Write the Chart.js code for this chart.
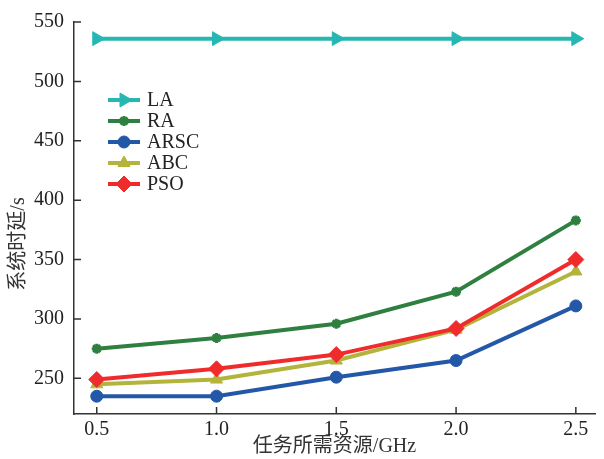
<!DOCTYPE html>
<html>
<head>
<meta charset="utf-8">
<script src="https://cdn.jsdelivr.net/npm/chart.js@4.4.0/dist/chart.umd.min.js"></script>
<style>
  html, body { margin: 0; padding: 0; background: #fff; }
  #wrap { width: 604px; height: 459px; }
</style>
</head>
<body>
<div id="wrap"><canvas id="chart"></canvas></div>
<script>
// 데이터
const resources = [0.5, 1.0, 1.5, 2.0, 2.5];
const laDelay   = [536, 536, 536, 536, 536];
const raDelay   = [275, 284, 296, 323, 383];
const arscDelay = [235, 235, 251, 265, 311];
const abcDelay  = [245, 249, 265, 291, 340];
const psoDelay  = [249, 258, 270, 292, 350];
const xTicks = [0.5, 1.0, 1.5, 2.0, 2.5];
const yTicks = [250, 300, 350, 400, 450, 500, 550];
const xTitle = "任务所需资源/GHz";
const yTitle = "系统时延/s";

const FONT = "'Liberation Serif', 'Noto Sans CJK SC', serif";
const AXIS = "#333";

const series = [
  { label: "LA",   data: laDelay,   color: "#27b7b2", style: "triangle", radius: 8, rotation: 90, order: 4 },
  { label: "RA",   data: raDelay,   color: "#2f8040", style: "star",     radius: 5, rotation: 0,  order: 3 },
  { label: "ARSC", data: arscDelay, color: "#2357a8", style: "circle",   radius: 6, rotation: 0,  order: 2 },
  { label: "ABC",  data: abcDelay,  color: "#b3b43b", style: "triangle", radius: 7, rotation: 0,  order: 1 },
  { label: "PSO",  data: psoDelay,  color: "#ef2b2b", style: "rectRot",  radius: 8, rotation: 0,  order: 0 },
];

// 안쪽 눈금, y축 제목, 범례 직접 그리기
const extras = {
  id: "extras",
  afterDraw(chart) {
    const ctx = chart.ctx;
    const xs = chart.scales.x, ys = chart.scales.y;
    const area = chart.chartArea;
    ctx.save();
    ctx.strokeStyle = AXIS;
    ctx.lineWidth = 1.5;
    ctx.beginPath();
    xTicks.forEach(v => {
      const px = xs.getPixelForValue(v);
      ctx.moveTo(px, area.bottom);
      ctx.lineTo(px, area.bottom - 7);
    });
    yTicks.forEach(v => {
      const py = ys.getPixelForValue(v);
      ctx.moveTo(area.left, py);
      ctx.lineTo(area.left + 7, py);
    });
    ctx.stroke();

    // y축 제목
    ctx.fillStyle = "#333";
    ctx.font = "20px " + FONT;
    ctx.textAlign = "center";
    ctx.textBaseline = "middle";
    ctx.translate(19, 244);
    ctx.rotate(-Math.PI / 2);
    ctx.fillText(yTitle, 0, 0);
    ctx.restore();

    // 범례
    ctx.save();
    series.forEach((s, i) => {
      const y = 100 + i * 21;
      ctx.strokeStyle = s.color;
      ctx.fillStyle = s.color;
      ctx.lineWidth = 4;
      ctx.beginPath();
      ctx.moveTo(108, y);
      ctx.lineTo(140, y);
      ctx.stroke();
      ctx.lineWidth = s.style === "star" ? 3 : 1;
      Chart.helpers.drawPoint(ctx, {
        pointStyle: s.style, radius: s.radius, rotation: s.rotation,
        borderWidth: s.style === "star" ? 3 : 1
      }, 124, y);
      ctx.fillStyle = "#222";
      ctx.font = "20px " + FONT;
      ctx.textAlign = "left";
      ctx.textBaseline = "middle";
      ctx.fillText(s.label, 147, y + 1);
    });
    ctx.restore();
  }
};

const ctx = document.getElementById("chart").getContext("2d");
const myChart = new Chart(ctx, {
  type: "line",
  data: {
    datasets: series.map(s => ({
      label: s.label,
      data: s.data.map((v, i) => ({ x: resources[i], y: v })),
      borderColor: s.color,
      backgroundColor: s.color,
      pointBackgroundColor: s.color,
      pointBorderColor: s.color,
      borderWidth: 4,
      pointStyle: s.style,
      pointRadius: s.radius,
      pointRotation: s.rotation,
      pointBorderWidth: s.style === "star" ? 3 : 1,
      order: s.order,
      fill: false,
      tension: 0,
    })),
  },
  options: {
    responsive: true,
    maintainAspectRatio: false,
    animation: false,
    layout: { padding: { top: 18, right: 2, left: 0, bottom: 0 } },
    plugins: { legend: { display: false }, tooltip: { enabled: false } },
    scales: {
      x: {
        type: "linear",
        min: 0.405,
        max: 2.58,
        afterBuildTicks: s => { s.ticks = xTicks.map(v => ({ value: v })); },
        afterFit: s => { s.height = 45; },
        grid: { display: true, drawOnChartArea: false, drawTicks: false },
        border: { display: true, color: AXIS, width: 1.5 },
        ticks: {
          padding: 4,
          color: "#222",
          font: { family: FONT, size: 20 },
          callback: v => Number(v).toFixed(1),
        },
        title: {
          display: true,
          text: xTitle,
          color: "#333",
          font: { family: FONT, size: 20 },
          padding: { top: -3, bottom: 0 },
        },
      },
      y: {
        min: 220,
        max: 550,
        afterBuildTicks: s => { s.ticks = yTicks.map(v => ({ value: v })); },
        afterFit: s => { s.width = 74; },
        grid: { display: true, drawOnChartArea: false, drawTicks: false },
        border: { display: true, color: AXIS, width: 1.5 },
        ticks: {
          padding: 10,
          color: "#222",
          font: { family: FONT, size: 20 },
        },
      },
    },
  },
  plugins: [extras],
});
</script>
</body>
</html>
